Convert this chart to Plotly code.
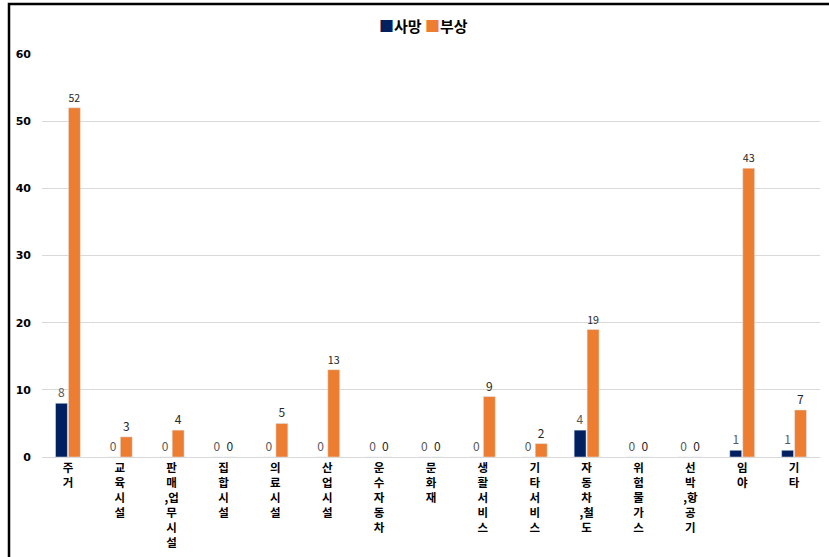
import plotly.graph_objects as go

categories = ["주거", "교육시설", "판매,업무시설", "집합시설", "의료시설", "산업시설", "운수자동차",
              "문화재", "생활서비스", "기타서비스", "자동차,철도", "위험물가스", "선박,항공기", "임야", "기타"]
deaths = [8, 0, 0, 0, 0, 0, 0, 0, 0, 0, 4, 0, 0, 1, 1]
injuries = [52, 3, 4, 0, 5, 13, 0, 0, 9, 2, 19, 0, 0, 43, 7]
series_names = ["사망", "부상"]
series_colors = ["#002060", "#ED7D31"]
y_ticks = [0, 10, 20, 30, 40, 50, 60]


def stack(label):
    out = []
    pending = ""
    for ch in label:
        if ch == ",":
            pending = ","
            continue
        out.append(pending + ch)
        pending = ""
    return "<br>".join(out)


tick_text = [stack(c) for c in categories]
FONT = "Noto Sans CJK KR"

fig = go.Figure()
fig.add_trace(go.Bar(
    x=categories, y=deaths, name=series_names[0],
    marker=dict(color=series_colors[0]),
    text=[str(v) for v in deaths], textposition="outside",
    textfont=dict(family=FONT, size=12, color="#595959"),
    cliponaxis=False, showlegend=False,
))
fig.add_trace(go.Bar(
    x=categories, y=injuries, name=series_names[1],
    marker=dict(color=series_colors[1]),
    text=[str(v) for v in injuries], textposition="outside",
    textfont=dict(family=FONT, size=12, color="#262626"),
    cliponaxis=False, showlegend=False,
))

W, H = 829, 557
L, R, T, B = 42, 9, 54, 100
pw, ph = W - L - R, H - T - B


def px_x(px):
    return (px - L) / pw


def px_y(py):
    return (H - B - py) / ph


legend_text = " ".join(
    f"<span style='color:{c}'>■</span>{n}" for n, c in zip(series_names, series_colors))

fig.update_layout(
    width=W, height=H,
    margin=dict(l=L, r=R, t=T, b=B, autoexpand=False),
    paper_bgcolor="white", plot_bgcolor="white",
    barmode="group", bargap=0.5, bargroupgap=0.08,
    font=dict(family=FONT, color="#000000"),
    showlegend=False,
    xaxis=dict(tickmode="array", tickvals=categories, ticktext=tick_text,
               tickangle=0, tickfont=dict(family=FONT, size=11.5, color="#000000", weight="bold"),
               showline=True, linecolor="#d9d9d9", linewidth=1, showgrid=False,
               ticks="", automargin=False),
    yaxis=dict(range=[0, 60], tickvals=y_ticks, showgrid=True, gridcolor="#d9d9d9",
               gridwidth=1, zeroline=False, showline=False, automargin=False,
               tickfont=dict(family="DejaVu Sans", size=11, color="#000000", weight="bold"),
               ticklabelstandoff=10),
    annotations=[dict(text=legend_text, xref="paper", yref="paper", x=px_x(423), y=px_y(25),
                      xanchor="center", yanchor="middle", showarrow=False,
                      font=dict(family=FONT, size=15, color="#000000", weight="bold"))],
    shapes=[dict(type="rect", xref="paper", yref="paper",
                 x0=px_x(9), x1=px_x(832), y0=px_y(600), y1=px_y(4),
                 line=dict(color="black", width=2.5), fillcolor="rgba(0,0,0,0)", layer="above")],
)

fig.write_html("out.html", config={"displayModeBar": False},
               post_script="document.body.style.margin='0';document.body.style.overflow='hidden';")
